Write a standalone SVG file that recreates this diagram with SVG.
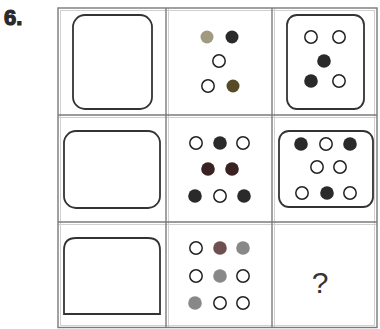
<svg xmlns="http://www.w3.org/2000/svg" width="380" height="329" viewBox="0 0 380 329">
<style>
.grid{fill:none;stroke:#7a7a7a;stroke-width:1.4}
.grid2{fill:none;stroke:#d0d0d0;stroke-width:1}
.box{fill:none;stroke:#333;stroke-width:1.8}
.o{fill:#fff;stroke:#222;stroke-width:1.5}
.b{fill:#2a2a2a}
.g{fill:#888}
.t{font-family:"Liberation Sans",Arial,sans-serif}
</style>
<rect width="380" height="329" fill="#fff"/>
<text class="t" x="4" y="25" font-size="22" font-weight="bold" fill="#2a2a2a" stroke="#2a2a2a" stroke-width="1.2">6.</text>
<g id="grid">
<rect class="grid2" x="60.5" y="10.5" width="314" height="315"/>
<line class="grid2" x1="168.5" y1="8" x2="168.5" y2="328"/>
<line class="grid2" x1="274.5" y1="8" x2="274.5" y2="328"/>
<line class="grid2" x1="58" y1="117.5" x2="377" y2="117.5"/>
<line class="grid2" x1="58" y1="224.5" x2="377" y2="224.5"/>
<rect class="grid" x="58" y="8" width="319" height="319.5"/>
<line class="grid" x1="166" y1="8" x2="166" y2="327.5"/>
<line class="grid" x1="272" y1="8" x2="272" y2="327.5"/>
<line class="grid" x1="58" y1="115" x2="377" y2="115"/>
<line class="grid" x1="58" y1="222" x2="377" y2="222"/>
</g>
<g id="r1c1"><rect class="box" x="73" y="15" width="79" height="94" rx="12"/></g>
<g id="r1c2">
<circle class="g" cx="207" cy="37" r="6.5" style="fill:#a09a80"/>
<circle class="b" cx="232" cy="37" r="6.5"/>
<circle class="o" cx="219" cy="61" r="6.2"/>
<circle class="o" cx="208" cy="86" r="6.2"/>
<circle class="g" cx="233" cy="86" r="6.5" style="fill:#574a26"/>
</g>
<g id="r1c3">
<rect class="box" x="287" y="15" width="77" height="94" rx="10"/>
<circle class="o" cx="311" cy="37" r="6.2"/>
<circle class="o" cx="339" cy="37" r="6.2"/>
<circle class="b" cx="324" cy="61" r="6.8"/>
<circle class="b" cx="311" cy="81" r="6.8"/>
<circle class="o" cx="339" cy="81" r="6.2"/>
</g>
<g id="r2c1"><rect class="box" x="64" y="131" width="96" height="77" rx="12"/></g>
<g id="r2c2">
<circle class="o" cx="196" cy="143" r="6.2"/>
<circle class="b" cx="220" cy="143" r="6.8"/>
<circle class="o" cx="243" cy="143" r="6.2"/>
<circle class="b" cx="208" cy="169" r="6.8" style="fill:#3a2222"/>
<circle class="b" cx="232" cy="169" r="6.8" style="fill:#3a2222"/>
<circle class="b" cx="195" cy="196" r="6.8"/>
<circle class="o" cx="220" cy="196" r="6.2"/>
<circle class="b" cx="244" cy="196" r="6.8"/>
</g>
<g id="r2c3">
<rect class="box" x="279" y="131" width="94" height="76" rx="10"/>
<circle class="b" cx="301" cy="144" r="6.8"/>
<circle class="o" cx="326" cy="144" r="6.2"/>
<circle class="b" cx="350" cy="144" r="6.8"/>
<circle class="o" cx="317" cy="167" r="6.2"/>
<circle class="o" cx="340" cy="167" r="6.2"/>
<circle class="o" cx="302" cy="193" r="6.2"/>
<circle class="b" cx="327" cy="193" r="6.8"/>
<circle class="o" cx="350" cy="193" r="6.2"/>
</g>
<g id="r3c1"><path class="box" d="M64,314 V250 Q64,238 76,238 H148 Q160,238 160,250 V314 Z"/></g>
<g id="r3c2">
<circle class="o" cx="196" cy="248" r="6.2"/>
<circle class="g" cx="220" cy="248" r="6.8" style="fill:#6e5050"/>
<circle class="g" cx="243" cy="248" r="6.8"/>
<circle class="o" cx="196" cy="276" r="6.2"/>
<circle class="g" cx="220" cy="276" r="6.8"/>
<circle class="o" cx="243" cy="276" r="6.2"/>
<circle class="g" cx="195" cy="303" r="6.8"/>
<circle class="o" cx="220" cy="303" r="6.2"/>
<circle class="o" cx="243" cy="303" r="6.2"/>
</g>
<g id="r3c3"><text class="t" x="320" y="293" font-size="30" text-anchor="middle" fill="#333">?</text></g>
</svg>
